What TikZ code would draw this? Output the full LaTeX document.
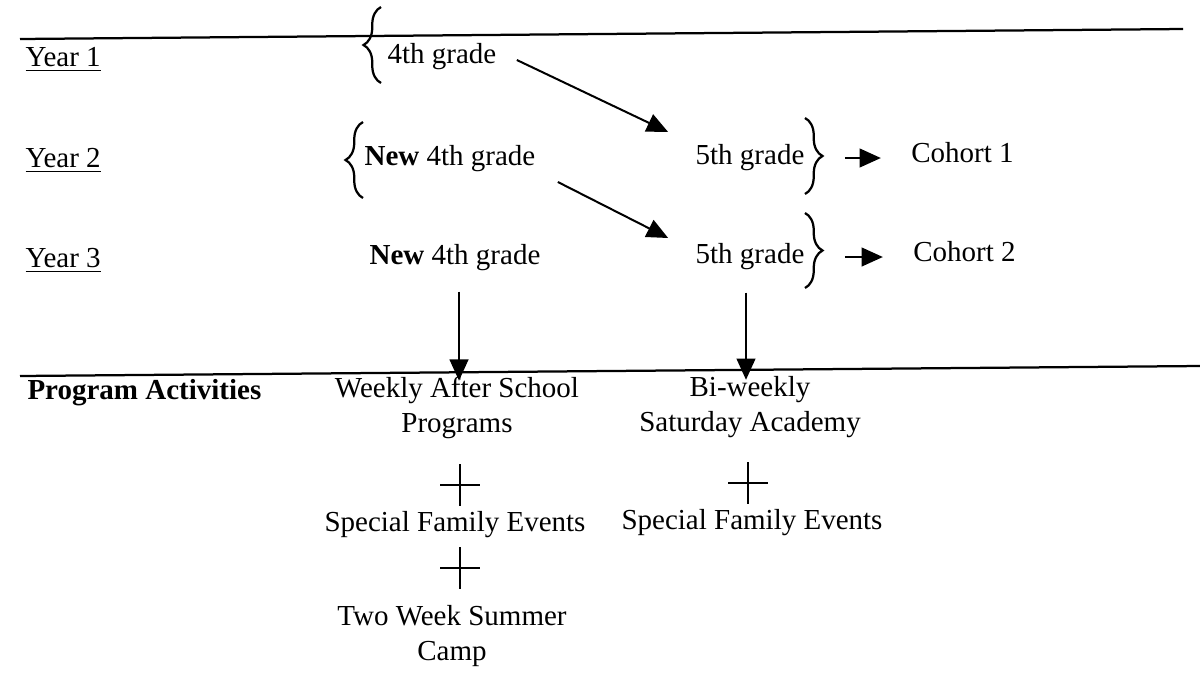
\documentclass[tikz,border=0pt]{standalone}
\usepackage{fontspec}
\setmainfont{Liberation Serif}
\usetikzlibrary{arrows.meta, positioning, decorations.pathreplacing}

\begin{document}
\begin{tikzpicture}[x=0.4pt, y=-0.4pt,
  font=\fontsize{11.6}{14}\selectfont,
  lbl/.style={inner sep=0pt, align=center},
  arr/.style={line width=0.8pt, -{Triangle[length=8.5pt, width=7.5pt]}},
  brc/.style={line width=0.9pt, decorate, decoration={brace, amplitude=7pt}}]
\useasboundingbox (0,0) rectangle (1200,675);

% Rules between the sections
\draw[line width=0.9pt] (20,39) -- (1183,29);
\draw[line width=0.9pt] (20,376) -- (1200,366);

% Year labels
\node[lbl, anchor=west] (y1) at (25,60) {\underline{Year 1}};
\node[lbl, anchor=west] (y2) at (25,161) {\underline{Year 2}};
\node[lbl, anchor=west] (y3) at (25,261) {\underline{Year 3}};
\node[lbl, anchor=west] (pa) at (27,393) {\textbf{Program Activities}};

% Grades
\node[lbl] (g4a) at (442,57) {4th grade};
\node[lbl] (n4b) at (450,159) {\textbf{New} 4th grade};
\node[lbl] (n4c) at (455,258) {\textbf{New} 4th grade};
\node[lbl] (g5b) at (750,158) {5th grade};
\node[lbl] (g5c) at (750,257) {5th grade};
\node[lbl, anchor=base west] (c1) at ([shift={(106,-2)}]g5b.base east) {Cohort 1};
\node[lbl, anchor=base west] (c2) at ([shift={(108,-2)}]g5c.base east) {Cohort 2};

% Braces
\draw[brc] (381,83) -- (381,7);
\draw[brc] (363,198) -- (363,122);
\draw[brc] (805,118) -- (805,194);
\draw[brc] (805,213) -- (805,288);

% Moving up a grade
\draw[arr] ([shift={(20,3)}]g4a.east) -- ([shift={(-27,-26)}]g5b.west);
\draw[arr] ([shift={(22,23)}]n4b.east) -- ([shift={(-27,-19)}]g5c.west);
\draw[arr, shorten <=16pt, shorten >=12pt] (g5b.east) -- (g5b.east -| c1.west);
\draw[arr, shorten <=16pt, shorten >=12pt] (g5c.east) -- (g5c.east -| c2.west);

% Activities
\node[lbl] (wk) at (457,408) {Weekly After School\\Programs};
\node[lbl] (bi) at (750,407) {Bi-weekly\\Saturday Academy};
\node[lbl] (sf1) at (455,525) {Special Family Events};
\node[lbl] (sf2) at (752,523) {Special Family Events};
\node[lbl] (tw) at (452,636) {Two Week Summer\\Camp};

\draw[arr] ([shift={(4,20)}]n4c.south) -- ([shift={(2,4)}]wk.north);
\draw[arr] ([shift={(-4,22)}]g5c.south) -- ([shift={(-4,4)}]bi.north);

% Plus signs
\foreach \px/\py in {460/485, 460/568, 748/483}
  \draw[line width=0.6pt] (\px-20,\py) -- (\px+20,\py) (\px,\py-21) -- (\px,\py+21);
\end{tikzpicture}
\end{document}
